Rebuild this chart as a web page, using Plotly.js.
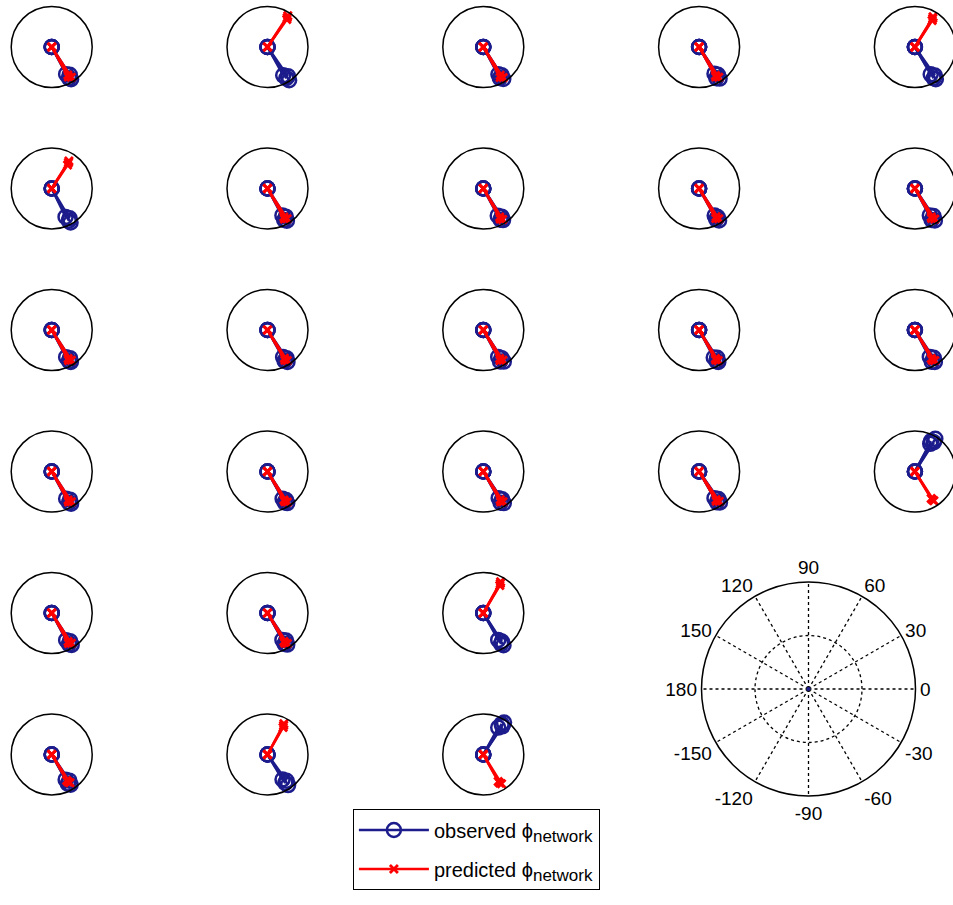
<!DOCTYPE html>
<html><head><meta charset="utf-8">
<script src="https://cdn.plot.ly/plotly-3.0.1.min.js"></script>
<style>html,body{margin:0;padding:0;overflow:hidden;background:#fff;}#chart{width:960px;height:905px;}</style>
</head><body><div id="chart"></div><script>
// ---- data (angles in degrees, radius normalised to 1) ----
const obsTheta = [
  [-62,-57,-59,-61],[-61,-55,-57,-59],[-61,-57,-58,-62],[-60,-56,-57,-61],[-60,-55,-57,-59],
  [-64,-59,-61,-62],[-61,-57,-59,-62],[-62,-57,-58,-61],[-60,-57,-58,-61],[-61,-56,-58,-62],
  [-62,-57,-59,-61],[-60,-56,-58,-61],[-61,-57,-57,-62],[-62,-57,-59,-61],[-61,-56,-58,-62],
  [-62,-57,-59,-61],[-61,-57,-58,-61],[-60,-56,-57,-61],[-60,-55,-56,-60],[61,57,58,62],
  [-62,-57,-58,-61],[-61,-56,-58,-61],[-61,-57,-58,-60],
  [-61,-56,-58,-61],[-59,-54,-56,-58],[61,56,57,59]
];
const obsR = [
  [0.76,0.82,0.93,0.88],[0.80,0.88,0.98,0.90],[0.77,0.83,0.93,0.87],[0.76,0.83,0.93,0.88],[0.78,0.86,0.95,0.90],
  [0.78,0.86,0.96,0.90],[0.76,0.83,0.93,0.88],[0.76,0.83,0.92,0.88],[0.77,0.84,0.93,0.87],[0.76,0.82,0.93,0.88],
  [0.76,0.83,0.92,0.88],[0.77,0.84,0.93,0.87],[0.76,0.83,0.93,0.88],[0.77,0.82,0.92,0.88],[0.76,0.83,0.93,0.89],
  [0.76,0.83,0.93,0.88],[0.77,0.84,0.92,0.87],[0.76,0.83,0.93,0.88],[0.76,0.83,0.92,0.88],[0.78,0.86,0.95,0.85],
  [0.76,0.83,0.93,0.88],[0.76,0.82,0.92,0.87],[0.76,0.84,0.94,0.88],
  [0.71,0.78,0.88,0.82],[0.72,0.80,0.91,0.83],[0.76,0.84,0.94,0.88]
];
const predTheta = [
  [-60,-57,-61],[55,57,56],[-59,-57,-61],[-60,-57,-61],[57,59,58],
  [56,58,57],[-60,-57,-61],[-60,-58,-61],[-59,-57,-61],[-60,-57,-61],
  [-60,-57,-61],[-59,-57,-60],[-60,-57,-61],[-60,-58,-61],[-60,-57,-60],
  [-60,-57,-61],[-60,-57,-60],[-59,-57,-60],[-59,-56,-60],[-59,-57,-58],
  [-60,-57,-61],[-60,-57,-60],[59,61,60],
  [-60,-57,-59],[60,62,61],[-61,-58,-60]
];
const predR = [
  [0.80,0.89,0.85],[0.83,0.92,0.87],[0.81,0.90,0.86],[0.81,0.89,0.85],[0.78,0.87,0.83],
  [0.70,0.80,0.76],[0.81,0.89,0.86],[0.81,0.90,0.86],[0.81,0.89,0.85],[0.81,0.90,0.85],
  [0.81,0.89,0.86],[0.81,0.90,0.86],[0.81,0.89,0.86],[0.81,0.89,0.85],[0.81,0.90,0.86],
  [0.81,0.89,0.86],[0.81,0.90,0.86],[0.81,0.89,0.86],[0.81,0.89,0.85],[0.78,0.86,0.82],
  [0.81,0.89,0.86],[0.81,0.90,0.86],[0.79,0.88,0.84],
  [0.74,0.83,0.79],[0.77,0.86,0.82],[0.76,0.85,0.81]
];
const bigTickVals = [0,30,60,90,120,150,180,210,240,270,300,330];
const bigTickText = ['0','30','60','90','120','150','180','-150','-120','-90','-60','-30'];
const obsName = 'observed \u03d5<sub><span style="font-size:17px">network</span></sub>';
const predName = 'predicted \u03d5<sub><span style="font-size:17px">network</span></sub>';

// ---- layout geometry ----
const W = 960, H = 905;
const colC = [51.7, 267.5, 483.3, 699.1, 914.9];
const rowC = [47, 188.5, 330, 471.5, 613, 754.5];
const smallR = 40.5;
const cells = [];
for (let r = 0; r < 4; r++) for (let c = 0; c < 5; c++) cells.push([r, c]);
for (let r = 4; r < 6; r++) for (let c = 0; c < 3; c++) cells.push([r, c]);

const NAVY = 'rgb(28,28,140)';
const RED = 'rgb(255,0,0)';
const FONT = 'Liberation Sans, Arial, sans-serif';

function segs(th, rr) {
  const T = [], R = [];
  th.forEach((t, i) => { if (i) { T.push(null); R.push(null); } T.push(t, t); R.push(0, rr[i]); });
  return {T, R};
}
function dom(cx, cy, rad) {
  return {x: [(cx - rad) / W, (cx + rad) / W], y: [1 - (cy + rad) / H, 1 - (cy - rad) / H]};
}

const traces = [];
const layout = {
  width: W, height: H, margin: {l: 0, r: 0, t: 0, b: 0},
  paper_bgcolor: '#fff', showlegend: true,
  font: {family: FONT, color: '#000'},
  legend: {
    x: 352.7 / W, y: 1 - 809.3 / H, xanchor: 'left', yanchor: 'top',
    bordercolor: '#000', borderwidth: 1.2, bgcolor: '#fff',
    font: {size: 20, family: FONT, color: '#000'},
    traceorder: 'grouped', tracegroupgap: 10, itemwidth: 70
  }
};

cells.forEach(([r, c], i) => {
  const key = i === 0 ? 'polar' : 'polar' + (i + 1);
  layout[key] = {
    domain: dom(colC[c], rowC[r], smallR),
    bgcolor: 'rgba(0,0,0,0)',
    radialaxis: {range: [0, 1], visible: false},
    angularaxis: {showgrid: false, showticklabels: false, ticks: '', linecolor: '#000', linewidth: 1.5}
  };
  const o = segs(obsTheta[i], obsR[i]);
  const p = segs(predTheta[i], predR[i]);
  traces.push({
    type: 'scatterpolar', subplot: key, r: o.R, theta: o.T, mode: 'lines+markers',
    name: obsName, legendgroup: 'obs', showlegend: i === 0, cliponaxis: false,
    line: {color: NAVY, width: 2.5},
    marker: {symbol: 'circle-open', size: 14, color: NAVY, line: {width: 2.5, color: NAVY}}
  });
  traces.push({
    type: 'scatterpolar', subplot: key, r: p.R, theta: p.T, mode: 'lines+markers',
    name: predName, legendgroup: 'pred', showlegend: i === 0, cliponaxis: false,
    line: {color: RED, width: 2.5},
    marker: {symbol: 'x-thin-open', size: 8, color: RED, line: {width: 2.8, color: RED}}
  });
});

// big reference polar
const bigKey = 'polar' + (cells.length + 1);
layout[bigKey] = {
  domain: dom(808.5, 689, 107),
  bgcolor: 'rgba(0,0,0,0)',
  radialaxis: {range: [0, 1], tickvals: [0.5], showticklabels: false, ticks: '', showline: false,
               gridcolor: '#000', griddash: 'dot', gridwidth: 1.3},
  angularaxis: {tickmode: 'array', tickvals: bigTickVals, ticktext: bigTickText, ticks: '',
                showgrid: true, gridcolor: '#000', griddash: 'dot', gridwidth: 1.3,
                linecolor: '#000', linewidth: 1.5,
                tickfont: {size: 19, family: FONT, color: '#000'}}
};
traces.push({
  type: 'scatterpolar', subplot: bigKey, r: [0], theta: [0], mode: 'markers', showlegend: false,
  marker: {size: 4, color: NAVY}
});

Plotly.newPlot('chart', traces, layout, {staticPlot: true, displayModeBar: false});
</script></body></html>
